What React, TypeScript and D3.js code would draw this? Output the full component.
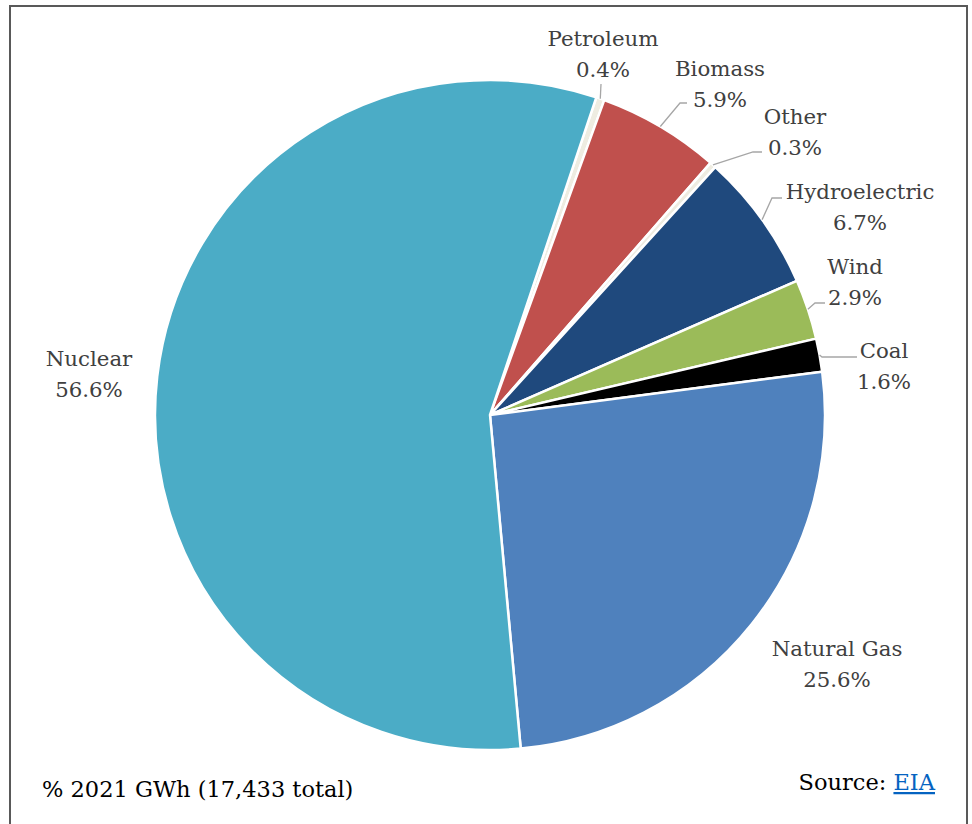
import React from "react";
import * as d3 from "d3";

const categories = ["Petroleum", "Biomass", "Other", "Hydroelectric", "Wind", "Coal", "Natural Gas", "Nuclear"];
const shares = [0.4, 5.9, 0.3, 6.7, 2.9, 1.6, 25.6, 56.6];
const colors = ["#EEECE1", "#C0504D", "#EEECE1", "#1F497D", "#9BBB59", "#000000", "#4F81BD", "#4BACC6"];

// label layout: centre x, first-line y, optional elbow point of leader line
const labelLayout: Record<string, { x: number; y: number; elbow?: [number, number]; end?: [number, number] }> = {
  Petroleum: { x: 603, y: 46, elbow: [601, 84], end: [601, 84] },
  Biomass: { x: 720, y: 76, elbow: [680, 103], end: [687, 103] },
  Other: { x: 795, y: 124, elbow: [753, 152], end: [762, 152] },
  Hydroelectric: { x: 860, y: 199, elbow: [772, 198], end: [782, 198] },
  Wind: { x: 855, y: 274, elbow: [815, 303], end: [825, 303] },
  Coal: { x: 884, y: 358, elbow: [822, 357], end: [857, 357] },
  "Natural Gas": { x: 837, y: 656 },
  Nuclear: { x: 89, y: 366 },
};

export default function App() {
  const cx = 490, cy = 415, r = 335;
  const startDeg = 18.5;
  const pie = d3
    .pie<number>()
    .sort(null)
    .value((d) => d)
    .startAngle((startDeg * Math.PI) / 180)
    .endAngle((startDeg * Math.PI) / 180 + 2 * Math.PI);
  const arcs = pie(shares);
  const arcGen = d3.arc<d3.PieArcDatum<number>>().innerRadius(0).outerRadius(r);

  return (
    <svg width={972} height={824} style={{ position: "absolute", left: 0, top: 0 }}
      fontFamily="'DejaVu Serif', serif">
      <rect x={0} y={0} width={972} height={824} fill="#fff" />
      <rect x={10} y={6} width={957} height={830} fill="none" stroke="#595959" strokeWidth={2} />
      <g transform={`translate(${cx},${cy})`}>
        {arcs.map((a, i) => (
          <path key={categories[i]} d={arcGen(a) || ""} fill={colors[i]} stroke="#fff" strokeWidth={2.5} strokeLinejoin="round" />
        ))}
      </g>
      {arcs.map((a, i) => {
        const name = categories[i];
        const lay = labelLayout[name];
        const mid = (a.startAngle + a.endAngle) / 2;
        const px = cx + r * Math.sin(mid);
        const py = cy - r * Math.cos(mid);
        return (
          <g key={name}>
            {lay.elbow && lay.end && (
              <polyline
                points={`${px},${py} ${lay.elbow[0]},${lay.elbow[1]} ${lay.end[0]},${lay.end[1]}`}
                fill="none" stroke="#A6A6A6" strokeWidth={1.3} />
            )}
            <text x={lay.x} y={lay.y} textAnchor="middle" fontSize={21.3} fill="#404040">
              <tspan x={lay.x}>{name}</tspan>
              <tspan x={lay.x} dy={31}>{`${shares[i].toFixed(1)}%`}</tspan>
            </text>
          </g>
        );
      })}
      <text x={42} y={797} fontSize={22.5} fill="#000">% 2021 GWh (17,433 total)</text>
      <text x={935} y={790} fontSize={22.5} fill="#000" textAnchor="end">
        <tspan>Source: </tspan>
        <tspan fill="#0563C1" textDecoration="underline">EIA</tspan>
      </text>
    </svg>
  );
}
